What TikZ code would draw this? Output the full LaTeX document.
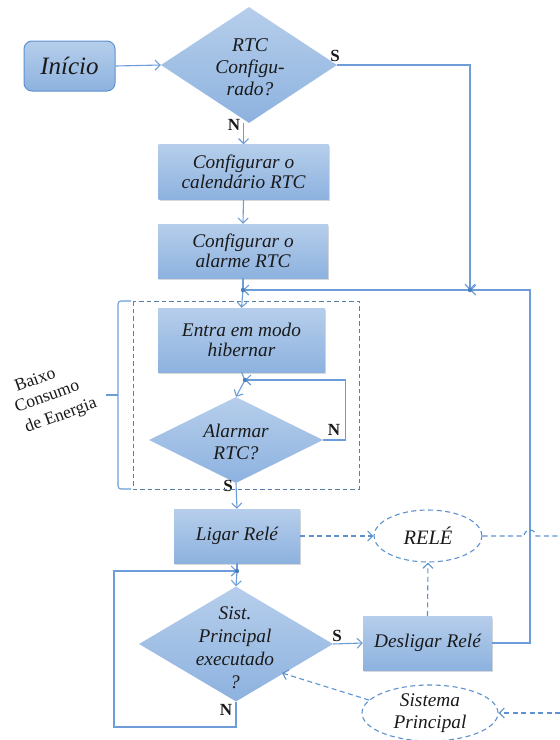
\documentclass[tikz,border=0pt]{standalone}
\usepackage{fontspec}
\setmainfont{Liberation Serif}
\usetikzlibrary{arrows.meta,shapes.geometric,shadows}
\definecolor{lineblue}{HTML}{6C9DD8}
\definecolor{boxtop}{HTML}{B6CEEB}
\definecolor{boxbot}{HTML}{8DB2DF}
\definecolor{dashblue}{HTML}{5E92CF}
\definecolor{framegray}{HTML}{5A7FA6}
\definecolor{dotblue}{HTML}{4A7FBF}
\definecolor{txt}{HTML}{1A1A1A}
\tikzset{
  procbox/.style={rectangle, inner sep=0pt, top color=boxtop, bottom color=boxbot,
    draw=none, align=center, text=txt,
    font=\itshape\fontsize{19.3}{20.5}\selectfont,
    drop shadow={opacity=0.3, shadow xshift=1pt, shadow yshift=-1.5pt}},
  decision/.style={diamond, inner sep=0pt, top color=boxtop, bottom color=boxbot, draw=none},
  dtext/.style={align=center, text=txt},
  conn/.style={draw=lineblue, line width=1.1pt},
  flow/.style={conn, -{Straight Barb[length=5pt,width=10pt]}},
  dconn/.style={draw=dashblue, line width=1.1pt, dash pattern=on 5pt off 3.5pt},
  dflow/.style={dconn, -{Straight Barb[length=5pt,width=10pt]}},
  lab/.style={font=\bfseries\fontsize{17}{17}\selectfont, text=txt, inner sep=0pt},
  ell/.style={ellipse, draw=dashblue, line width=1.1pt, dash pattern=on 5pt off 3.5pt,
    fill=white, inner sep=0pt, align=center, text=txt, font=\itshape\fontsize{19.3}{22}\selectfont},
  grptext/.style={rotate=20, anchor=base west, inner sep=0pt, text=txt, font=\fontsize{17.5}{18}\selectfont},
}
\begin{document}
\begin{tikzpicture}[x=1pt,y=-1pt]
\useasboundingbox[fill=white] (0,0) rectangle (560,740);

% nodes
\node[rectangle, rounded corners=8pt, draw=dashblue, line width=1pt, top color=boxtop,
  bottom color=boxbot, minimum width=91pt, minimum height=50pt, inner sep=0pt,
  font=\itshape\fontsize{25}{26}\selectfont, text=txt] (start) at (69.5,66) {Início};
\node[decision, minimum width=176pt, minimum height=116pt] (d1) at (249,65) {};
\node[dtext, font=\itshape\fontsize{19.5}{22}\selectfont] (d1t) at (250,67) {RTC\\Configu-\\rado?};
\node[procbox, minimum width=170pt, minimum height=55pt] (b1) at (243.5,172) {Configurar o\\calendário RTC};
\node[procbox, minimum width=170pt, minimum height=54pt] (b2) at (243,251) {Configurar o\\alarme RTC};
\node[procbox, minimum width=167pt, minimum height=64pt] (b3) at (241.5,340) {Entra em modo\\hibernar};
\node[decision, minimum width=174pt, minimum height=86pt] (d2) at (236,440) {};
\node[dtext, font=\itshape\fontsize{19.3}{22}\selectfont] (d2t) at (236,442) {Alarmar\\RTC?};
\node[procbox, minimum width=126pt, minimum height=54pt] (b4) at (237,536) {Ligar Relé};
\node[decision, minimum width=194pt, minimum height=115pt] (d3) at (236,644) {};
\node[dtext, font=\itshape\fontsize{19.3}{23}\selectfont] (d3t) at (235,648) {Sist.\\Principal\\executado\\?};
\node[procbox, minimum width=129pt, minimum height=54pt] (b5) at (427.5,643) {Desligar Relé};
\node[ell, minimum width=108pt, minimum height=52pt, font=\itshape\fontsize{20.5}{22}\selectfont] (rele) at (428,536) {RELÉ};
\node[ell, minimum width=136pt, minimum height=56pt] (sp) at (430,713) {Sistema\\Principal};

% junctions
\coordinate (jL) at (243,290);
\coordinate (jR) at (470,290);
\coordinate (cR) at (530,290);
\coordinate (jA) at (245,380);
\coordinate (jB) at (237,571);
\coordinate (lpB) at (114,727);
\coordinate (eR) at (560,536);
\coordinate (eS) at (560,713);

% connectors
\draw[flow] (start.east) -- (d1.west);
\draw[flow] (d1.east) -| (jR);
\draw[flow] (b1.north |- d1.south) -- (b1.north);
\draw[flow] (b1.south) -- (b2.north);
\draw[conn] (b2.south) -- (jL);
\draw[flow] (jR) -- (jL);
\draw[flow] (b5.east) -| (cR) -- (jR);
\draw[flow] (jL) -- (b3.north);
\draw[conn] (b3.south) -- (jA);
\draw[flow] (jA) -- (d2.north);
\draw[flow] (d2.east) -- ++(22,0) |- (jA);
\draw[flow] (d2.south) -- (b4.north);
\draw[conn] (b4.south) -- (jB);
\draw[flow] (jB) -- (d3.north);
\draw[flow] (d3.south) |- (lpB) |- (jB);
\draw[flow] (d3.east) -- (b5.west);
\draw[dflow] (b4.east) -- (rele.west);
\draw[dflow] (b5.north) -- (rele.south);
\draw[dconn] (rele.east) -- (524,536) arc[start angle=180, end angle=0, radius=6pt] -- (eR);
\draw[dflow] (eS) -- (sp.east);
\draw[dflow] (sp.168) -- (282,673);

\foreach \p in {jL,jR,jA,jB} \fill[dotblue] (\p) circle (2.2pt);

% labels
\node[lab] at (335,56) {S};
\node[lab] at (234,125) {N};
\node[lab] at (334,430) {N};
\node[lab] at (228,486) {S};
\node[lab] at (337,636) {S};
\node[lab] at (226,710) {N};

% low-power group
\draw[draw=framegray, line width=1pt, dash pattern=on 4.5pt off 3pt] (133,301) rectangle (359,489);
\draw[conn, rounded corners=3pt] (131,301) -- (118,301) -- (118,489) -- (131,489);
\draw[conn] (118,395) -- (106,395);
\node[grptext] (g1) at (17,392) {Baixo};
\node[grptext] (g2) at (17,413) {Consumo};
\node[grptext] (g3) at (27,433) {de Energia};
\end{tikzpicture}
\end{document}
